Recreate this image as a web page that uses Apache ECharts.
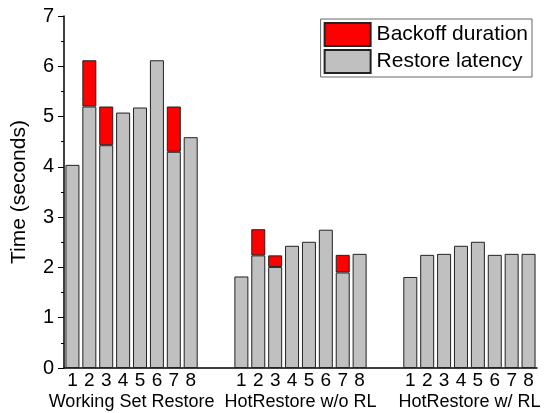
<!DOCTYPE html>
<html>
<head>
<meta charset="utf-8">
<script src="https://cdn.jsdelivr.net/npm/echarts@6/dist/echarts.min.js"></script>
<style>
  html, body { margin: 0; padding: 0; background: #fff; }
  #chart { width: 552px; height: 413px; }
</style>
</head>
<body>
<div id="chart"></div>
<script>
const groups = ["Working Set Restore", "HotRestore w/o RL", "HotRestore w/ RL"];
const runs = ["1", "2", "3", "4", "5", "6", "7", "8"];
const restoreLatency = [
  [4.04, 5.2, 4.43, 5.08, 5.18, 6.12, 4.3, 4.59],
  [1.82, 2.24, 2.01, 2.43, 2.51, 2.75, 1.9, 2.27],
  [1.81, 2.25, 2.27, 2.43, 2.51, 2.25, 2.27, 2.27],
];
const backoffDuration = [
  [null, 0.92, 0.77, null, null, null, 0.9, null],
  [null, 0.52, 0.23, null, null, null, 0.35, null],
  [null, null, null, null, null, null, null, null],
];
const yTicks = [0, 1, 2, 3, 4, 5, 6, 7];

// 8 slots per group plus 2 empty slots between groups
const gapSlots = 2;
const categories = [];
const latencyData = [];
const backoffData = [];
const groupCenters = [];
groups.forEach((group, g) => {
  if (g > 0) {
    for (let k = 0; k < gapSlots; k++) {
      categories.push(`gap${g}${k}`);
      latencyData.push("-");
      backoffData.push("-");
    }
  }
  groupCenters.push(categories.length + runs.length / 2);
  runs.forEach((run, i) => {
    categories.push(`${g}|${run}`);
    latencyData.push(restoreLatency[g][i]);
    backoffData.push(backoffDuration[g][i] == null ? "-" : backoffDuration[g][i]);
  });
});

const chart = echarts.init(document.getElementById("chart"));
const font = "Liberation Sans, Arial, sans-serif";

chart.setOption({
  animation: false,
  textStyle: { fontFamily: font, color: "#000" },
  grid: { left: 64, right: 15, top: 16, bottom: 45 },
  legend: {
    data: ["Backoff duration", "Restore latency"],
    orient: "vertical",
    right: 20,
    top: 19,
    icon: "rect",
    itemWidth: 46,
    itemHeight: 23,
    itemGap: 2,
    padding: [3, 4, 3, 3],
    borderColor: "#666",
    borderWidth: 1,
    selectedMode: false,
    textStyle: { fontSize: 21, lineHeight: 23, color: "#000", fontFamily: font, padding: [0, 0, 0, 1] },
  },
  xAxis: [
    {
      type: "category",
      data: categories,
      axisLine: { lineStyle: { color: "#000", width: 1.5 } },
      axisTick: { show: false },
      axisLabel: {
        interval: 0,
        fontSize: 19,
        color: "#000",
        margin: 3,
        formatter: (v) => (v.includes("|") ? v.split("|")[1] : ""),
      },
    },
    {
      type: "value",
      position: "bottom",
      min: 0,
      max: categories.length,
      offset: 22,
      axisLine: { show: false },
      axisTick: { show: false },
      splitLine: { show: false },
      axisLabel: {
        customValues: groupCenters,
        fontSize: 18,
        color: "#000",
        margin: 3,
        formatter: (v) => groups[groupCenters.indexOf(v)] || "",
      },
    },
  ],
  yAxis: {
    type: "value",
    min: yTicks[0],
    max: yTicks[yTicks.length - 1],
    interval: 1,
    name: "Time (seconds)",
    nameLocation: "middle",
    nameGap: 34,
    nameTextStyle: { fontSize: 21, color: "#000", fontFamily: font },
    axisLine: { show: true, lineStyle: { color: "#000", width: 1.5 } },
    axisTick: { show: true, length: 6, lineStyle: { color: "#000" } },
    minorTick: { show: true, splitNumber: 2, length: 3, lineStyle: { color: "#000" } },
    splitLine: { show: false },
    axisLabel: { fontSize: 20, color: "#000", margin: 10 },
  },
  series: [
    {
      name: "Restore latency",
      type: "bar",
      stack: "time",
      barWidth: 14,
      data: latencyData,
      itemStyle: { color: "#c0c0c0", borderColor: "#222", borderWidth: 1 },
    },
    {
      name: "Backoff duration",
      type: "bar",
      stack: "time",
      barWidth: 14,
      data: backoffData,
      itemStyle: { color: "#ff0000", borderColor: "#222", borderWidth: 1 },
    },
  ],
});
</script>
</body>
</html>
